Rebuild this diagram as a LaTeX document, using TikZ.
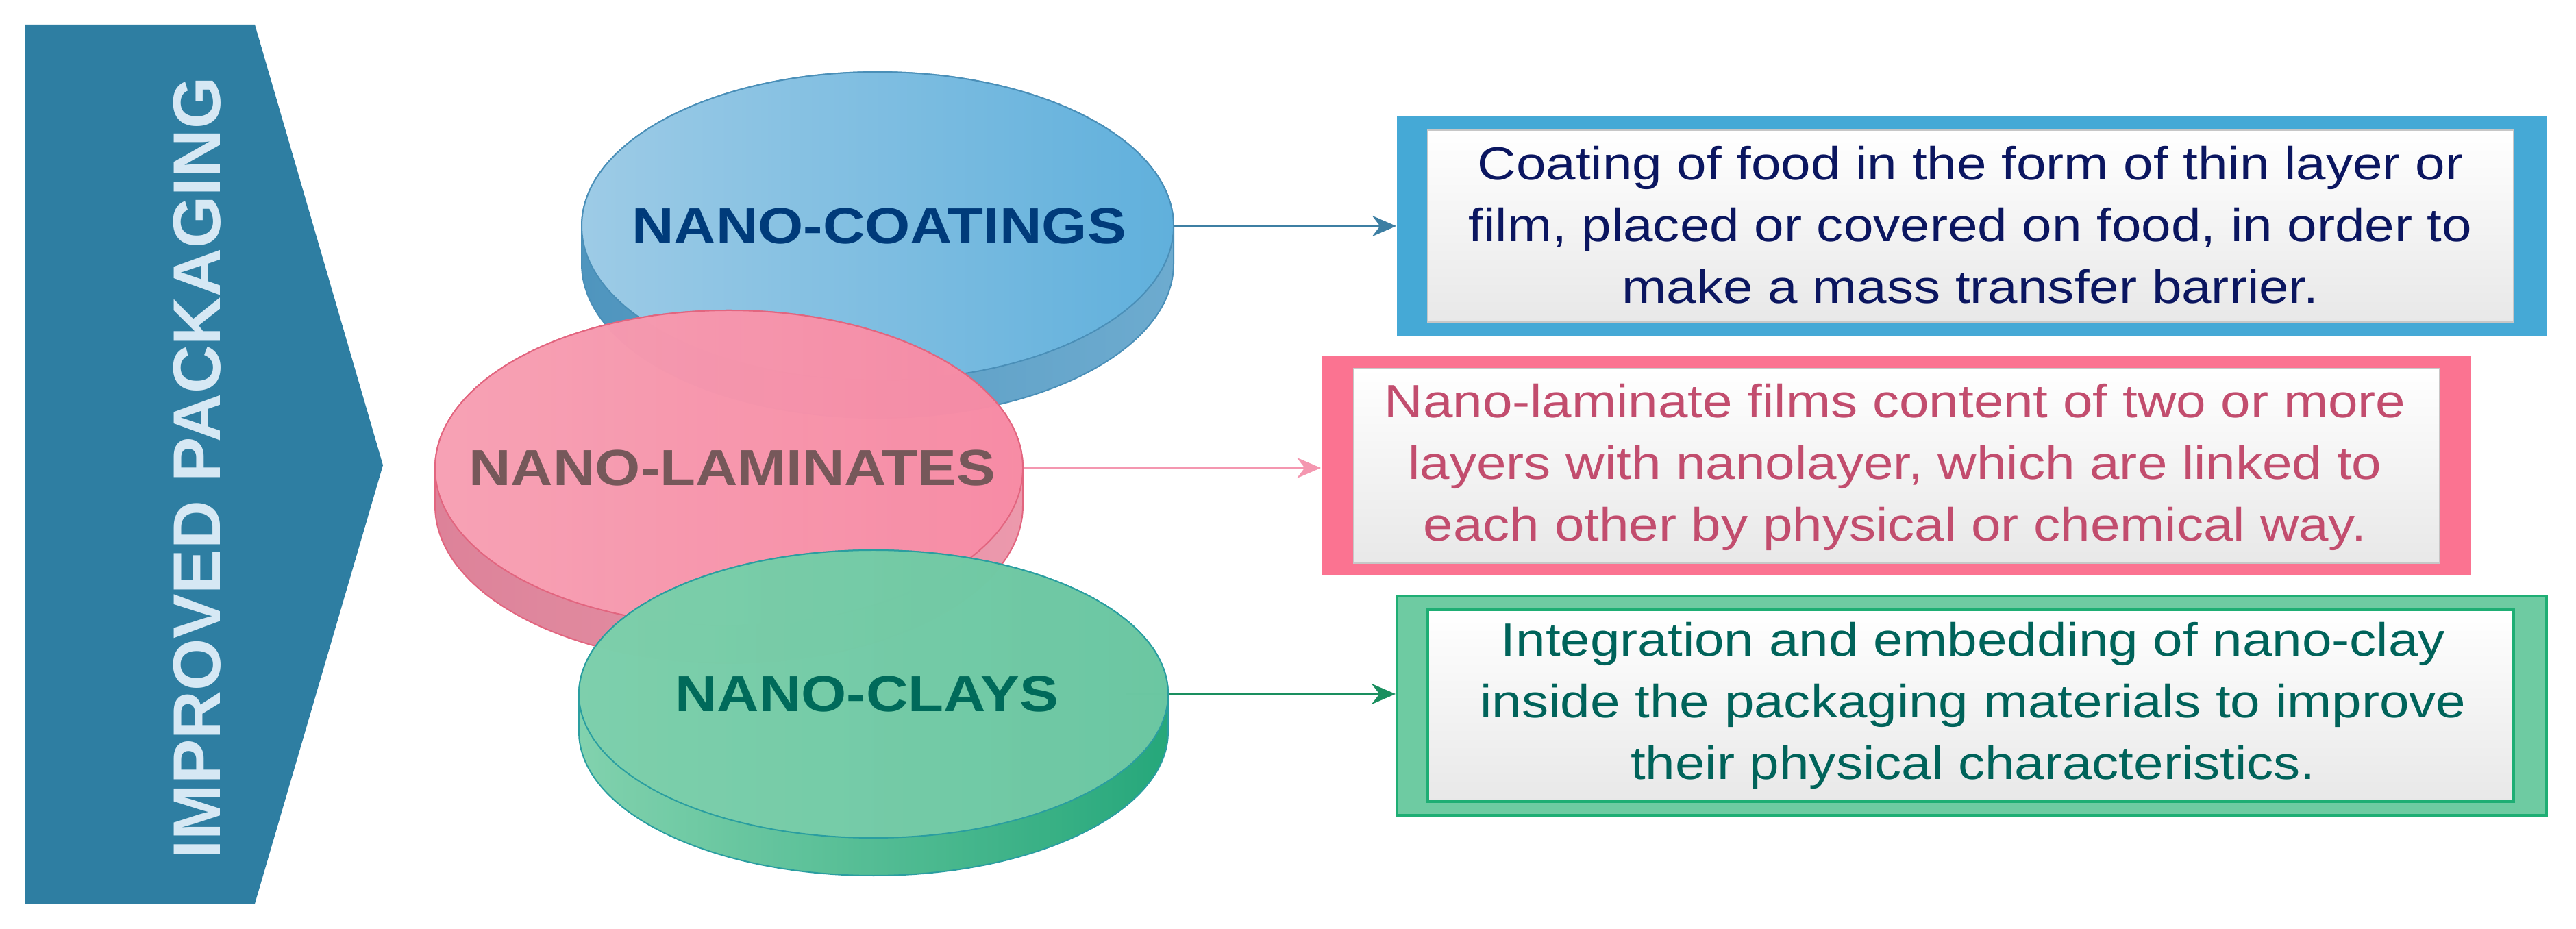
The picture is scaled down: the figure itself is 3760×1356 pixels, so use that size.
\documentclass[tikz,border=0pt]{standalone}
\usepackage{fontspec}
\usepackage{graphicx}
\setmainfont{Liberation Sans}
\usetikzlibrary{arrows.meta}
\newcommand{\stretchx}[1]{\scalebox{1.15}[1]{#1}}
\definecolor{chev}{HTML}{2E7EA2}
\definecolor{chevtext}{HTML}{D6E8F4}
\definecolor{bfaceL}{HTML}{9DCBE6}
\definecolor{bfaceR}{HTML}{60B0DC}
\definecolor{bline}{HTML}{4A8FB8}
\definecolor{bsideL}{HTML}{4F95BE}
\definecolor{bsideR}{HTML}{6DABCF}
\definecolor{btext}{HTML}{003B7A}
\definecolor{pfaceL}{HTML}{FBA6B9}
\definecolor{pfaceR}{HTML}{F98AA5}
\definecolor{pline}{HTML}{E2657F}
\definecolor{psideL}{HTML}{D8718B}
\definecolor{psideR}{HTML}{E98BA1}
\definecolor{ptext}{HTML}{76585A}
\definecolor{gfaceL}{HTML}{7ED0AC}
\definecolor{gfaceR}{HTML}{74CBA7}
\definecolor{gline}{HTML}{2A9EA0}
\definecolor{gsideL}{HTML}{74CDA5}
\definecolor{gsideR}{HTML}{0E9E6C}
\definecolor{gtext}{HTML}{006A5A}
\definecolor{bbox}{HTML}{45A9D6}
\definecolor{bboxtext}{HTML}{0B1660}
\definecolor{pbox}{HTML}{FB7391}
\definecolor{pboxtext}{HTML}{C24D6E}
\definecolor{gbox}{HTML}{6ECBA2}
\definecolor{gboxedge}{HTML}{1EAE74}
\definecolor{gboxtext}{HTML}{00635A}
\definecolor{barrow}{HTML}{3D7FA3}
\definecolor{parrow}{HTML}{F497B0}
\definecolor{garrow}{HTML}{1A8F5F}
\begin{document}
\begin{tikzpicture}[x=0.2pt,y=-0.2pt,
  lab/.style={font=\fontsize{14.8pt}{16pt}\selectfont\bfseries, inner sep=0pt},
  outerbox/.style={minimum width=335.6pt, minimum height=64pt, inner sep=0pt},
  innerbox/.style={minimum width=317pt, minimum height=56pt, inner sep=0pt,
    top color=white, bottom color=black!9, draw=black!22, line width=0.4pt},
  desc/.style={font=\fontsize{13.6pt}{18pt}\selectfont, align=center, inner sep=0pt},
  conn/.style={line width=0.8pt, -{Stealth[length=7pt,width=6pt]}}
]
\useasboundingbox (0,0) rectangle (3760,1356);

% chevron
\fill[chev] (36,36) -- (372,36) -- (559,679) -- (372,1319) -- (36,1319) -- cycle;
\node[rotate=90, text=chevtext, font=\fontsize{19.6pt}{20pt}\selectfont\bfseries, inner sep=0pt] (title) at (288,683) {IMPROVED PACKAGING};

% boxes
\node[outerbox, fill=bbox] (b1) at (2878,330) {};
\node[innerbox] (b1in) at (2876,330) {};
\node[desc, text=bboxtext] (t1) at (2876,328) {\stretchx{Coating of food in the form of thin layer or}\\ \stretchx{film, placed or covered on food, in order to}\\ \stretchx{make a mass transfer barrier.}};

\node[outerbox, fill=pbox] (b2) at (2768,680) {};
\node[innerbox, minimum height=56.8pt] (b2in) at (2768,680) {};
\node[desc, text=pboxtext] (t2) at (2766,682) {\stretchx{Nano-laminate films content of two or more}\\ \stretchx{layers with nanolayer, which are linked to}\\ \stretchx{each other by physical or chemical way.}};

\node[outerbox, fill=gbox, draw=gboxedge, line width=0.8pt] (b3) at (2878,1030) {};
\node[innerbox, draw=gboxedge, line width=0.8pt] (b3in) at (2876,1030) {};
\node[desc, text=gboxtext] (t3) at (2880,1030) {\stretchx{Integration and embedding of nano-clay}\\ \stretchx{inside the packaging materials to improve}\\ \stretchx{their physical characteristics.}};

% connectors
\coordinate (a1) at (1713,330);
\coordinate (a2) at (1493,683);
\coordinate (a3) at (1643,1013);
\draw[conn, barrow] (a1) -- (a1 -| b1.west);
\draw[conn, parrow] (a2) -- (a2 -| b2.west);
\draw[conn, garrow] (a3) -- (a3 -| b3.west);

% blue disc
\begin{scope}[shift={(1281,330)}]
  \path[left color=bsideL, right color=bsideR, draw=bline, line width=0.4pt]
    (-86.4pt,0pt) -- (-86.4pt,-11pt) arc[start angle=180,end angle=360,x radius=86.4pt,y radius=45pt]
    -- (86.4pt,0pt) arc[start angle=0,end angle=180,x radius=86.4pt,y radius=45pt] -- cycle;
  \path[left color=bfaceL, right color=bfaceR, draw=bline, line width=0.4pt]
    (0pt,0pt) ellipse[x radius=86.4pt, y radius=45pt];
\end{scope}
\node[lab, text=btext] (n1) at (1283,330) {\stretchx{NANO-COATINGS}};

% pink disc
\begin{scope}[shift={(1064,683)}, fill opacity=0.88]
  \path[left color=psideL, right color=psideR, draw=pline, line width=0.4pt]
    (-85.8pt,0pt) -- (-85.8pt,-11pt) arc[start angle=180,end angle=360,x radius=85.8pt,y radius=46pt]
    -- (85.8pt,0pt) arc[start angle=0,end angle=180,x radius=85.8pt,y radius=46pt] -- cycle;
  \path[left color=pfaceL, right color=pfaceR, draw=pline, line width=0.4pt]
    (0pt,0pt) ellipse[x radius=85.8pt, y radius=46pt];
\end{scope}
\node[lab, text=ptext] (n2) at (1069,683) {\stretchx{NANO-LAMINATES}};

% green disc
\begin{scope}[shift={(1275,1013)}, fill opacity=0.9]
  \path[left color=gsideL, right color=gsideR, draw=gline, line width=0.4pt]
    (-86pt,0pt) -- (-86pt,-11pt) arc[start angle=180,end angle=360,x radius=86pt,y radius=42pt]
    -- (86pt,0pt) arc[start angle=0,end angle=180,x radius=86pt,y radius=42pt] -- cycle;
  \path[left color=gfaceL, right color=gfaceR, draw=gline, line width=0.4pt]
    (0pt,0pt) ellipse[x radius=86pt, y radius=42pt];
\end{scope}
\node[lab, text=gtext] (n3) at (1265,1013) {\stretchx{NANO-CLAYS}};
\end{tikzpicture}
\end{document}
